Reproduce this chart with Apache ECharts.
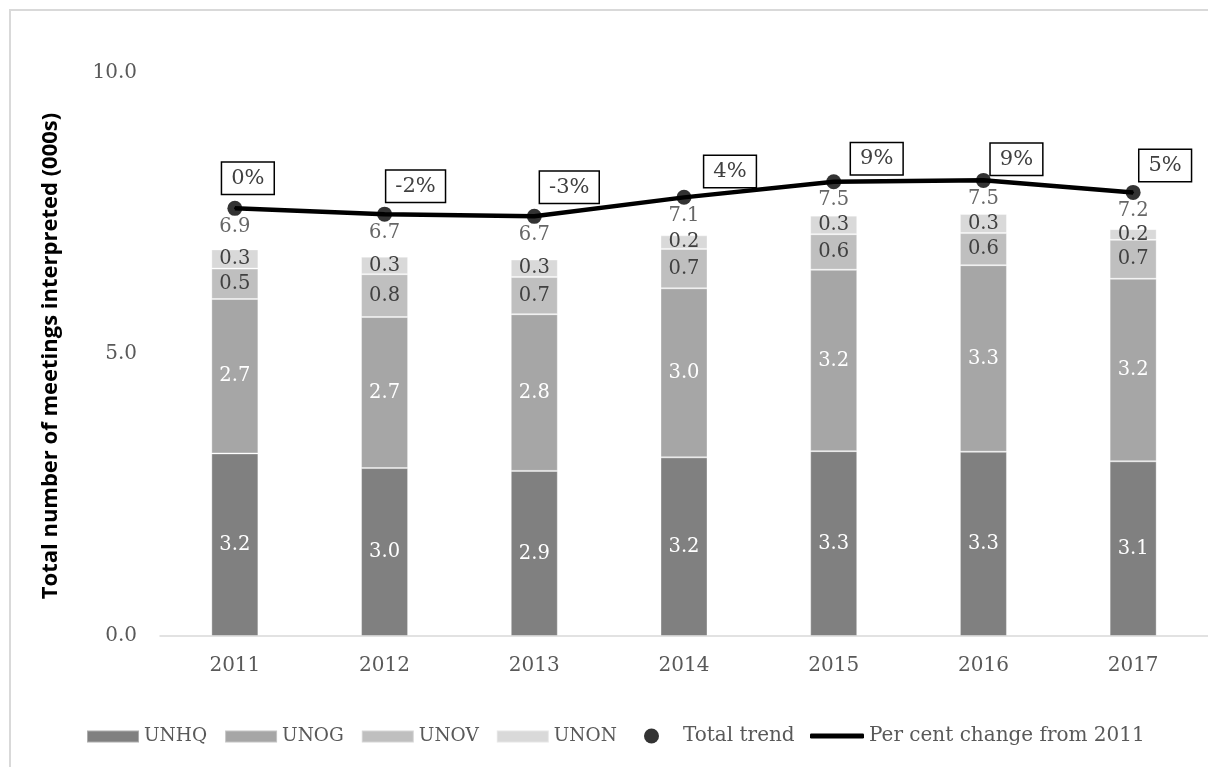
<!DOCTYPE html>
<html>
<head>
<meta charset="utf-8">
<script src="https://cdn.jsdelivr.net/npm/echarts@6/dist/echarts.min.js"></script>
<style>
  html, body { margin: 0; padding: 0; background: #ffffff; }
  #chart { width: 1208px; height: 767px; }
</style>
</head>
<body>
<div id="chart"></div>
<script>
// Meetings interpreted per duty station (thousands)
const years = ['2011', '2012', '2013', '2014', '2015', '2016', '2017'];
const unhq = [3.24, 2.98, 2.93, 3.17, 3.28, 3.27, 3.10];
const unog = [2.74, 2.68, 2.78, 3.00, 3.22, 3.31, 3.24];
const unov = [0.54, 0.76, 0.66, 0.70, 0.63, 0.57, 0.69];
const unon = [0.34, 0.31, 0.31, 0.24, 0.33, 0.34, 0.19];
// Total meetings per year (thousands)
const totals = [6.86, 6.73, 6.68, 7.11, 7.46, 7.49, 7.22];
// Per cent change in total meetings relative to 2011
const pctChange = [0, -1.9, -2.6, 3.6, 8.7, 9.2, 5.2];
const yTicks = [0, 5, 10];

// Hand-placed offsets of the per-cent callout boxes, relative to each point
const pctLabelOffsets = [[13, -30], [31, -28], [35, -29], [46, -26], [43, -23], [33, -21], [32, -27]];

const serif = 'DejaVu Serif';
const textGrey = '#595959';

const barLabel = (color) => ({
  show: true,
  position: 'inside',
  color: color,
  fontFamily: serif,
  fontSize: 19.5,
  formatter: (p) => p.value.toFixed(1)
});

const barSeries = (name, data, color, labelColor) => ({
  name: name,
  type: 'bar',
  stack: 'meetings',
  data: data,
  barWidth: 47,
  itemStyle: { color: color, borderColor: 'rgba(255,255,255,0.35)', borderWidth: 1 },
  label: barLabel(labelColor),
  emphasis: { disabled: true }
});

const legendText = { color: textGrey, fontFamily: serif, fontSize: 20 };

const chart = echarts.init(document.getElementById('chart'), null, { renderer: 'canvas' });

chart.setOption({
  animation: false,
  backgroundColor: '#ffffff',
  textStyle: { fontFamily: serif },
  grid: { left: 160, top: 72.5, bottom: 131, width: 1054, containLabel: false },
  graphic: [
    {
      type: 'rect',
      shape: { x: 10, y: 10, width: 1230, height: 800 },
      style: { fill: 'none', stroke: '#d9d9d9', lineWidth: 2 },
      silent: true
    },
    {
      type: 'text',
      x: 51,
      y: 356,
      rotation: Math.PI / 2,
      style: {
        text: 'Total number of meetings interpreted (000s)',
        fontFamily: 'Open Sans',
        fontWeight: 'bold',
        fontSize: 22,
        fill: '#000000',
        align: 'center',
        verticalAlign: 'middle'
      },
      silent: true
    }
  ],
  legend: [
    {
      left: 86,
      top: 727,
      padding: 0,
      itemWidth: 52,
      itemHeight: 12,
      itemGap: 17,
      icon: 'rect',
      selectedMode: false,
      textStyle: { color: textGrey, fontFamily: serif, fontSize: 18.5 },
      data: ['UNHQ', 'UNOG', 'UNOV', 'UNON']
    },
    {
      left: 644,
      top: 726,
      padding: 0,
      itemWidth: 15,
      itemHeight: 15,
      icon: 'circle',
      selectedMode: false,
      textStyle: Object.assign({ padding: [0, 0, 0, 19] }, legendText),
      data: ['Total trend']
    },
    {
      left: 810,
      top: 726,
      padding: 0,
      itemWidth: 54,
      itemHeight: 5,
      icon: 'roundRect',
      selectedMode: false,
      textStyle: legendText,
      data: [{ name: 'Per cent change from 2011', itemStyle: { color: '#000000' } }]
    }
  ],
  xAxis: {
    type: 'category',
    data: years,
    axisLine: { lineStyle: { color: '#d9d9d9', width: 1.5 } },
    axisTick: { show: false },
    axisLabel: { color: textGrey, fontFamily: serif, fontSize: 20, margin: 20 }
  },
  yAxis: [
    {
      type: 'value',
      min: yTicks[0],
      max: yTicks[yTicks.length - 1],
      interval: yTicks[1] - yTicks[0],
      axisLine: { show: false },
      axisTick: { show: false },
      splitLine: { show: false },
      axisLabel: {
        color: textGrey,
        fontFamily: serif,
        fontSize: 20,
        margin: 23,
        formatter: (v) => v.toFixed(1)
      }
    },
    // secondary scale for the per cent change line
    { type: 'value', show: false, min: -140.4, max: 44.6, splitLine: { show: false } },
    // scale for the total trend markers
    { type: 'value', show: false, min: -2.771, max: 9.920, splitLine: { show: false } }
  ],
  series: [
    barSeries('UNHQ', unhq, '#808080', '#ffffff'),
    barSeries('UNOG', unog, '#a6a6a6', '#ffffff'),
    barSeries('UNOV', unov, '#bfbfbf', '#404040'),
    barSeries('UNON', unon, '#d9d9d9', '#404040'),
    {
      name: 'Per cent change from 2011',
      type: 'line',
      yAxisIndex: 1,
      data: pctChange.map((v, i) => ({
        value: v,
        label: { offset: pctLabelOffsets[i] }
      })),
      symbol: 'circle',
      symbolSize: 2,
      showSymbol: true,
      itemStyle: { color: '#000000' },
      lineStyle: { color: '#000000', width: 4.5 },
      z: 5,
      label: {
        show: true,
        position: 'inside',
        color: '#404040',
        fontFamily: serif,
        fontSize: 21,
        backgroundColor: '#ffffff',
        borderColor: '#000000',
        borderWidth: 1.5,
        padding: [6, 9, 4, 9],
        formatter: (p) => Math.round(p.value) + '%'
      },
      emphasis: { disabled: true }
    },
    {
      name: 'Total trend',
      type: 'scatter',
      yAxisIndex: 2,
      data: totals,
      symbol: 'circle',
      symbolSize: 15,
      itemStyle: { color: '#000000' },
      z: 6,
      label: {
        show: true,
        position: 'bottom',
        distance: 1,
        color: '#404040',
        fontFamily: serif,
        fontSize: 19.5,
        formatter: (p) => p.value.toFixed(1)
      },
      emphasis: { disabled: true }
    }
  ]
});
</script>
</body>
</html>
